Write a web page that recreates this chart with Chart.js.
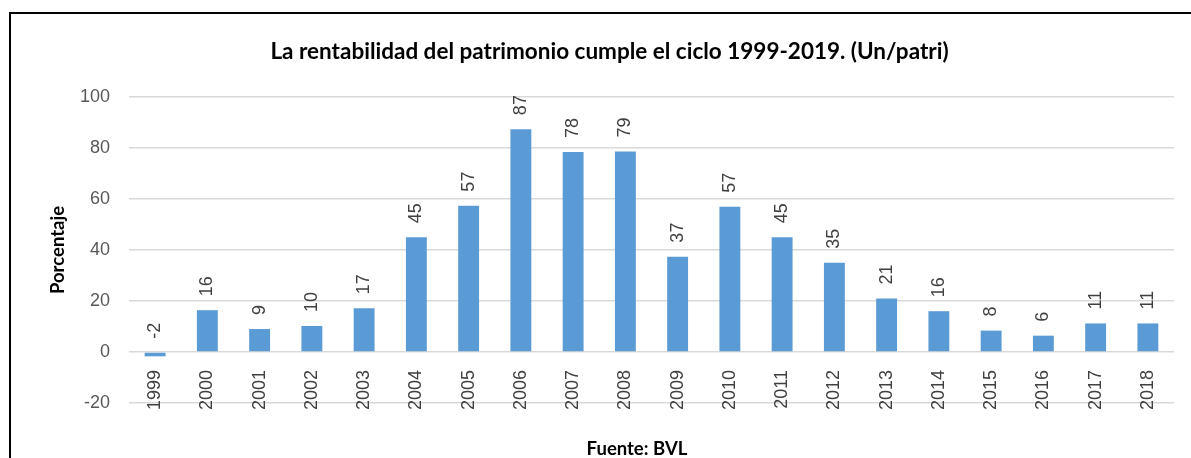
<!DOCTYPE html>
<html>
<head>
<meta charset="utf-8">
<script src="https://cdn.jsdelivr.net/npm/chart.js@4"></script>
<style>
  body { margin: 0; background: #fff; }
  #wrap { position: relative; width: 1191px; height: 458px; }
  #marco { position: absolute; left: 9px; top: 12px; right: -5px; bottom: -5px;
           border-left: 2px solid #000; border-top: 2px solid #000; pointer-events: none; }
</style>
</head>
<body>
<div id="wrap">
  <canvas id="grafico" width="1191" height="458"></canvas>
  <div id="marco"></div>
</div>
<script>
// Datos
const anios = ['1999', '2000', '2001', '2002', '2003', '2004', '2005', '2006', '2007', '2008',
               '2009', '2010', '2011', '2012', '2013', '2014', '2015', '2016', '2017', '2018'];
const rentabilidad = [-1.7, 16.4, 9, 10.2, 17.2, 45, 57.4, 87.4, 78.4, 78.6,
                      37.4, 57, 45, 35, 21, 16, 8.4, 6.4, 11.2, 11.2];
const ticksY = [-20, 0, 20, 40, 60, 80, 100];

// Etiquetas de valor giradas encima de cada barra
const etiquetasBarras = {
    id: 'etiquetasBarras',
    afterDatasetsDraw(chart) {
        const ctx = chart.ctx;
        const meta = chart.getDatasetMeta(0);
        ctx.save();
        ctx.font = '18px "Liberation Sans", Arial, sans-serif';
        ctx.fillStyle = '#404040';
        ctx.textAlign = 'left';
        ctx.textBaseline = 'middle';
        meta.data.forEach((bar, i) => {
            const y = Math.min(bar.y, bar.base) - 14;
            ctx.save();
            ctx.translate(bar.x, y);
            ctx.rotate(-Math.PI / 2);
            ctx.fillText(String(Math.round(rentabilidad[i])), 0, 0);
            ctx.restore();
        });
        ctx.restore();
    }
};

// Nota de la fuente bajo el gráfico
const notaFuente = {
    id: 'notaFuente',
    afterDraw(chart) {
        const ctx = chart.ctx;
        ctx.save();
        ctx.font = 'bold 18.5px Lato, sans-serif';
        ctx.fillStyle = '#000';
        ctx.textAlign = 'center';
        ctx.textBaseline = 'middle';
        ctx.fillText('Fuente: BVL', 637, 449);
        ctx.restore();
    }
};

new Chart(document.getElementById('grafico'), {
    type: 'bar',
    data: {
        labels: anios,
        datasets: [{
            label: 'Rentabilidad',
            data: rentabilidad,
            backgroundColor: '#5B9BD5',
            categoryPercentage: 1,
            barPercentage: 0.4
        }]
    },
    options: {
        responsive: false,
        animation: false,
        layout: { padding: { left: 45, right: 17, top: 28, bottom: 55 } },
        plugins: {
            legend: { display: false },
            tooltip: { enabled: false },
            title: {
                display: true,
                text: 'La rentabilidad del patrimonio cumple el ciclo 1999-2019. (Un/patri)',
                color: '#000',
                font: { family: 'Lato', size: 22.5, weight: 'bold' },
                padding: { top: 10, bottom: 32 }
            }
        },
        scales: {
            x: {
                position: { y: 0 },
                grid: { display: false },
                border: { display: false },
                ticks: {
                    color: '#404040',
                    font: { family: '"Liberation Sans"', size: 18 },
                    minRotation: 90,
                    maxRotation: 90,
                    autoSkip: false,
                    padding: 10
                }
            },
            y: {
                min: -20,
                max: 100,
                afterBuildTicks: (s) => { s.ticks = ticksY.map(v => ({ value: v })); },
                afterFit: (s) => { s.width = 84; },
                grid: { color: '#d9d9d9', lineWidth: 1.5, drawTicks: false },
                border: { display: false },
                ticks: {
                    color: '#595959',
                    font: { family: '"Liberation Sans"', size: 18 },
                    padding: 19
                },
                title: {
                    display: true,
                    text: 'Porcentaje',
                    color: '#000',
                    font: { family: 'Lato', size: 18.5, weight: 'bold' },
                    padding: { top: 2, bottom: 4 }
                }
            }
        }
    },
    plugins: [etiquetasBarras, notaFuente]
});
</script>
</body>
</html>
